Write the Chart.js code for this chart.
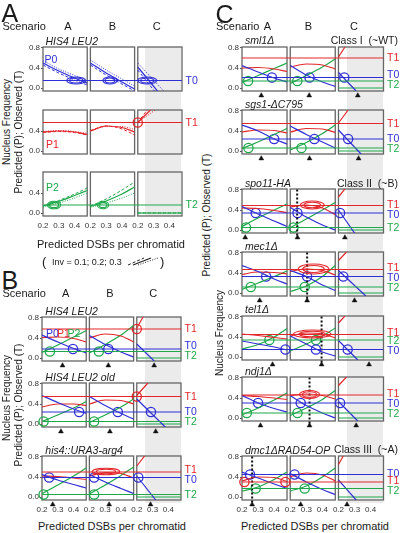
<!DOCTYPE html>
<html>
<head>
<meta charset="utf-8">
<script src="https://cdn.jsdelivr.net/npm/chart.js"></script>
<style>
  body { margin: 0; background: #fff; }
  #fig {
    position: relative;
    width: 400px;
    height: 533px;
    overflow: hidden;
    font-family: "Liberation Sans", Arial, sans-serif;
    color: #1a1a1a;
  }
  #fig canvas { position: absolute; z-index: 1; }
  .t { position: absolute; white-space: nowrap; line-height: 1; z-index: 2; }
  .shade { position: absolute; background: #ebebeb; z-index: 0; }
</style>
</head>
<body>
<div id="fig"></div>

<script>
// ---------- data ----------
const scenarios = ['A', 'B', 'C'];
const xTickLabels = [0.2, 0.3, 0.4];
const yTickLabels = [0.0, 0.4, 0.8];
const shadeFrom = 0.25;               // scenario C: region excluded (grey)

const rowTitles = ['HIS4 LEU2', '', '', 'HIS4 LEU2', 'HIS4 LEU2 old', 'his4::URA3-arg4',
  'sml1\u0394', 'sgs1-\u0394C795', 'spo11-HA', 'mec1\u0394', 'tel1\u0394', 'ndj1\u0394', 'dmc1\u0394RAD54-OP'];

// observed nucleus frequencies (T0, T1, T2) per row
const obsT0 = [0.15, null, null, 0.18, 0.24, 0.39, 0.21, 0.24, 0.34, 0.33, 0.15, 0.30, 0.45];
const obsT1 = [null, 0.57, null, 0.58, 0.55, 0.50, 0.60, 0.55, 0.49, 0.47, 0.45, 0.46, 0.30];
const obsT2 = [null, null, 0.16, 0.13, 0.05, 0.05, 0.14, 0.06, 0.05, 0.12, 0.34, 0.10, 0.17];

// panel A: predictions for Inv = 0.1 / 0.2 / 0.3, per scenario [A, B, C], points [DSBs, freq]
const aP0Inv1 = [[[0.2, 0.46], [0.3, 0.30], [0.4, 0.16], [0.48, 0.06]], [[0.2, 0.46], [0.3, 0.26], [0.4, 0.08], [0.48, -0.06]], [[0.2, 0.36], [0.31, -0.08]]];
const aP0Inv2 = [[[0.2, 0.50], [0.3, 0.34], [0.4, 0.20], [0.48, 0.10]], [[0.2, 0.50], [0.3, 0.30], [0.4, 0.12], [0.48, -0.02]], [[0.2, 0.42], [0.33, -0.08]]];
const aP0Inv3 = [[[0.2, 0.55], [0.3, 0.38], [0.4, 0.25], [0.48, 0.14]], [[0.2, 0.56], [0.3, 0.36], [0.4, 0.18], [0.48, 0.04]], [[0.2, 0.50], [0.37, -0.08]]];
const aP1Inv1 = [[[0.2, 0.37], [0.3, 0.39], [0.4, 0.37], [0.48, 0.32]], [[0.2, 0.41], [0.3, 0.50], [0.4, 0.44], [0.48, 0.32]], [[0.2, 0.57], [0.26, 0.82]]];
const aP1Inv2 = [[[0.2, 0.38], [0.3, 0.40], [0.4, 0.38], [0.48, 0.33]], [[0.2, 0.40], [0.3, 0.50], [0.4, 0.47], [0.48, 0.38]], [[0.2, 0.57], [0.28, 0.82]]];
const aP1Inv3 = [[[0.2, 0.39], [0.3, 0.41], [0.4, 0.39], [0.48, 0.35]], [[0.2, 0.40], [0.3, 0.49], [0.4, 0.49], [0.48, 0.43]], [[0.2, 0.57], [0.31, 0.82]]];
const aP2Inv1 = [[[0.2, 0.14], [0.3, 0.25], [0.4, 0.38], [0.48, 0.50]], [[0.2, 0.14], [0.3, 0.28], [0.4, 0.46], [0.48, 0.62]], [[0.2, 0], [0.48, 0]]];
const aP2Inv2 = [[[0.2, 0.14], [0.3, 0.23], [0.4, 0.35], [0.48, 0.45]], [[0.2, 0.13], [0.3, 0.24], [0.4, 0.38], [0.48, 0.52]], [[0.2, 0], [0.48, 0]]];
const aP2Inv3 = [[[0.2, 0.12], [0.3, 0.20], [0.4, 0.30], [0.48, 0.40]], [[0.2, 0.11], [0.3, 0.20], [0.4, 0.30], [0.48, 0.40]], [[0.2, 0], [0.48, 0]]];

// panels B and C (rows 3..12): P0, P1, P2 per scenario [A, B, C]
const predP0 = [
  [[[0.2, 0.46], [0.3, 0.32], [0.4, 0.19], [0.48, 0.10]], [[0.2, 0.45], [0.3, 0.27], [0.4, 0.12], [0.48, 0.02]], [[0.2, 0.28], [0.31, -0.06]]],
  [[[0.2, 0.57], [0.3, 0.43], [0.4, 0.30], [0.48, 0.21]], [[0.2, 0.55], [0.3, 0.37], [0.4, 0.21], [0.48, 0.10]], [[0.2, 0.50], [0.38, -0.06]]],
  [[[0.2, 0.45], [0.3, 0.34], [0.4, 0.25], [0.48, 0.18]], [[0.2, 0.45], [0.3, 0.30], [0.4, 0.17], [0.48, 0.07]], [[0.2, 0.42], [0.32, -0.06]]],
  [[[0.2, 0.45], [0.3, 0.32], [0.4, 0.20], [0.48, 0.12]], [[0.2, 0.45], [0.3, 0.26], [0.4, 0.12], [0.48, 0.03]], [[0.2, 0.31], [0.31, -0.06]]],
  [[[0.2, 0.52], [0.3, 0.40], [0.4, 0.24], [0.48, 0.14]], [[0.2, 0.50], [0.3, 0.33], [0.4, 0.18], [0.48, 0.06]], [[0.2, 0.42], [0.34, -0.06]]],
  [[[0.2, 0.47], [0.3, 0.32], [0.4, 0.18], [0.48, 0.07]], [[0.2, 0.45], [0.3, 0.26], [0.4, 0.10], [0.48, 0.00]], [[0.2, 0.40], [0.30, -0.06]]],
  [[[0.2, 0.55], [0.3, 0.43], [0.4, 0.28], [0.48, 0.18]], [[0.2, 0.45], [0.3, 0.33], [0.4, 0.16], [0.48, 0.05]], [[0.2, 0.45], [0.37, -0.06]]],
  [[[0.2, 0.32], [0.3, 0.26], [0.4, 0.20], [0.48, 0.14]], [[0.2, 0.42], [0.3, 0.26], [0.4, 0.10], [0.48, 0.02]], [[0.2, 0.33], [0.32, -0.06]]],
  [[[0.2, 0.45], [0.3, 0.30], [0.4, 0.19], [0.48, 0.12]], [[0.2, 0.45], [0.3, 0.25], [0.4, 0.10], [0.48, 0.00]], [[0.2, 0.33], [0.32, -0.06]]],
  [[[0.2, 0.50], [0.3, 0.38], [0.4, 0.26], [0.48, 0.17]], [[0.2, 0.47], [0.3, 0.30], [0.4, 0.15], [0.48, 0.05]], [[0.2, 0.34], [0.31, -0.06]]]
];
const predP1 = [
  [[[0.2, 0.41], [0.3, 0.42], [0.4, 0.39], [0.48, 0.32]], [[0.2, 0.40], [0.3, 0.48], [0.4, 0.44], [0.48, 0.32]], [[0.2, 0.60], [0.24, 0.82]]],
  [[[0.2, 0.34], [0.3, 0.40], [0.4, 0.40], [0.48, 0.37]], [[0.2, 0.40], [0.3, 0.48], [0.4, 0.47], [0.48, 0.40]], [[0.2, 0.57], [0.27, 0.82]]],
  [[[0.2, 0.42], [0.3, 0.41], [0.4, 0.38], [0.48, 0.35]], [[0.2, 0.42], [0.3, 0.49], [0.4, 0.47], [0.48, 0.38]], [[0.2, 0.62], [0.25, 0.82]]],
  [[[0.2, 0.40], [0.3, 0.41], [0.4, 0.38], [0.48, 0.33]], [[0.2, 0.42], [0.3, 0.48], [0.4, 0.46], [0.48, 0.38]], [[0.2, 0.62], [0.24, 0.82]]],
  [[[0.2, 0.38], [0.3, 0.42], [0.4, 0.41], [0.48, 0.36]], [[0.2, 0.38], [0.3, 0.45], [0.4, 0.44], [0.48, 0.37]], [[0.2, 0.56], [0.26, 0.82]]],
  [[[0.2, 0.44], [0.3, 0.43], [0.4, 0.39], [0.48, 0.35]], [[0.2, 0.46], [0.3, 0.50], [0.4, 0.44], [0.48, 0.31]], [[0.2, 0.66], [0.24, 0.82]]],
  [[[0.2, 0.37], [0.3, 0.42], [0.4, 0.41], [0.48, 0.38]], [[0.2, 0.43], [0.3, 0.48], [0.4, 0.45], [0.48, 0.36]], [[0.2, 0.65], [0.25, 0.82]]],
  [[[0.2, 0.46], [0.3, 0.43], [0.4, 0.39], [0.48, 0.36]], [[0.2, 0.42], [0.3, 0.48], [0.4, 0.46], [0.48, 0.38]], [[0.2, 0.68], [0.24, 0.82]]],
  [[[0.2, 0.45], [0.3, 0.43], [0.4, 0.40], [0.48, 0.37]], [[0.2, 0.45], [0.3, 0.48], [0.4, 0.45], [0.48, 0.38]], [[0.2, 0.65], [0.25, 0.82]]],
  [[[0.2, 0.32], [0.3, 0.40], [0.4, 0.39], [0.48, 0.31]], [[0.2, 0.41], [0.3, 0.48], [0.4, 0.44], [0.48, 0.32]], [[0.2, 0.65], [0.23, 0.82]]]
];
const predP2 = [
  [[[0.2, 0.11], [0.3, 0.26], [0.4, 0.42], [0.48, 0.55]], [[0.2, 0.10], [0.3, 0.27], [0.4, 0.46], [0.48, 0.65]], [[0.2, 0], [0.48, 0]]],
  [[[0.2, 0.05], [0.3, 0.18], [0.4, 0.32], [0.48, 0.45]], [[0.2, 0.03], [0.3, 0.18], [0.4, 0.34], [0.48, 0.50]], [[0.2, 0], [0.48, 0]]],
  [[[0.2, 0.07], [0.3, 0.24], [0.4, 0.42], [0.48, 0.58]], [[0.2, 0.06], [0.3, 0.24], [0.4, 0.43], [0.48, 0.60]], [[0.2, 0], [0.48, 0]]],
  [[[0.2, 0.11], [0.3, 0.25], [0.4, 0.39], [0.48, 0.50]], [[0.2, 0.09], [0.3, 0.25], [0.4, 0.42], [0.48, 0.58]], [[0.2, 0], [0.48, 0]]],
  [[[0.2, 0.05], [0.3, 0.18], [0.4, 0.33], [0.48, 0.45]], [[0.2, 0.02], [0.3, 0.17], [0.4, 0.35], [0.48, 0.52]], [[0.2, 0], [0.48, 0]]],
  [[[0.2, 0.07], [0.3, 0.24], [0.4, 0.40], [0.48, 0.52]], [[0.2, 0.05], [0.3, 0.22], [0.4, 0.40], [0.48, 0.55]], [[0.2, 0], [0.48, 0]]],
  [[[0.2, 0.07], [0.3, 0.20], [0.4, 0.33], [0.48, 0.44]], [[0.2, 0.03], [0.3, 0.14], [0.4, 0.33], [0.48, 0.55]], [[0.2, 0], [0.48, 0]]],
  [[[0.2, 0.16], [0.3, 0.25], [0.4, 0.40], [0.48, 0.57]], [[0.2, 0.12], [0.3, 0.26], [0.4, 0.42], [0.48, 0.58]], [[0.2, 0], [0.48, 0]]],
  [[[0.2, 0.06], [0.3, 0.20], [0.4, 0.36], [0.48, 0.50]], [[0.2, 0.05], [0.3, 0.20], [0.4, 0.37], [0.48, 0.55]], [[0.2, 0], [0.48, 0]]],
  [[[0.2, 0.12], [0.3, 0.20], [0.4, 0.35], [0.48, 0.50]], [[0.2, 0.12], [0.3, 0.22], [0.4, 0.40], [0.48, 0.58]], [[0.2, 0], [0.48, 0]]]
];

// open circles where a prediction meets its observation: [row, scenario, DSBs]
const hitsT0 = [[3, 0, 0.396], [3, 1, 0.32], [4, 0, 0.435], [4, 1, 0.38], [4, 2, 0.29], [5, 0, 0.245], [5, 1, 0.23], [5, 2, 0.21],
  [6, 0, 0.386], [6, 1, 0.32], [6, 2, 0.236], [7, 0, 0.40], [7, 1, 0.35], [7, 2, 0.26], [8, 0, 0.285], [8, 1, 0.245], [8, 2, 0.21],
  [9, 0, 0.35], [9, 1, 0.305], [9, 2, 0.23], [10, 0, 0.47], [10, 1, 0.36], [10, 2, 0.257], [11, 0, 0.30], [11, 1, 0.265], [11, 2, 0.21],
  [12, 0, 0.25], [12, 1, 0.227]];
const hitsT1 = [[1, 2, 0.2], [3, 2, 0.2], [4, 2, 0.2], [12, 0, 0.215], [12, 0, 0.47]];
const hitsT2 = [[3, 0, 0.25], [3, 1, 0.26], [4, 0, 0.21], [4, 1, 0.23], [5, 0, 0.21], [5, 1, 0.23], [6, 0, 0.238], [6, 1, 0.244],
  [7, 0, 0.24], [7, 1, 0.27], [8, 0, 0.225], [8, 1, 0.22], [9, 0, 0.255], [9, 1, 0.29], [10, 0, 0.37], [10, 1, 0.36],
  [11, 0, 0.23], [11, 1, 0.245], [12, 0, 0.285], [12, 1, 0.29]];

// confidence ellipses: [row, scenario, cx, cy, rx, ry]
const ovalsT0 = [[0, 0, 0.41, 0.15, 0.06, 0.07], [0, 1, 0.324, 0.15, 0.045, 0.07], [0, 2, 0.26, 0.15, 0.06, 0.07]];
const ovalsT1 = [[5, 1, 0.305, 0.51, 0.087, 0.065], [8, 1, 0.337, 0.50, 0.074, 0.08], [9, 1, 0.345, 0.48, 0.095, 0.1],
  [10, 1, 0.337, 0.46, 0.116, 0.08], [11, 1, 0.32, 0.47, 0.063, 0.08]];
const ovalsT2 = [[2, 0, 0.27, 0.16, 0.042, 0.075], [2, 1, 0.28, 0.16, 0.036, 0.075]];

// best-fit DSB level (triangles) per scenario, and the dotted marker [scenario, DSBs]
const dsbMarks = [null, null, null, [0.33, 0.32, 0.31], [0.32, 0.33, 0.32], [0.268, 0.325, 0.287], [0.32, 0.318, 0.32],
  [0.32, 0.32, 0.325], [0.22, 0.245, 0.24], [0.31, 0.305, 0.30], [0.39, 0.395, 0.39], [0.315, 0.32, 0.31], [0.263, 0.265, 0.253]];
const dottedAt = [null, null, null, null, null, null, null, null, [1, 0.243], [1, 0.305], [1, 0.395], [1, 0.32], [0, 0.263]];

// ---------- layout ----------
const COLORS = ['#2f2fd6', '#e3262b', '#1fa84a'];
const TNAMES = ['T0', 'T1', 'T2'];
const FONT = '"Liberation Sans", Arial, sans-serif';
const X_MIN = 0.2, X_SPAN = 0.28, X_STEP = 0.3, X_MAX = X_MIN + 2 * X_STEP + X_SPAN;
const Y_MIN = -0.06, Y_MAX = 0.82, ROW_H = 44;
const EXT = 3;                                   // extra px under each box for the triangles
const Y_AXIS_MIN = Y_MIN - EXT * (Y_MAX - Y_MIN) / ROW_H;
const MARK_Y = Y_MIN - 0.09;
const BOX_CLIP = { left: 0, top: 0, right: 0, bottom: -EXT };

const panels = {
  A: { left: 42.5, w: 139, tops: [47.3, 110, 171.7], rows: [0, 1, 2] },
  B: { left: 42.3, w: 139, tops: [317, 383, 456], rows: [3, 4, 5] },
  C: { left: 242, w: 141.5, tops: [46.8, 110, 189.3, 252, 315.5, 377, 456], rows: [6, 7, 8, 9, 10, 11, 12] }
};

const fig = document.getElementById('fig');

function txt(s, x, y, o = {}) {
  const d = document.createElement('div');
  d.className = 't';
  d.textContent = s;
  d.style.left = x + 'px';
  d.style.top = y + 'px';
  d.style.fontSize = (o.size || 10.5) + 'px';
  if (o.color) d.style.color = o.color;
  if (o.italic) d.style.fontStyle = 'italic';
  const tx = o.align === 'center' ? '-50%' : o.align === 'right' ? '-100%' : '0';
  d.style.transform = `translate(${tx},-50%)` + (o.rot ? ' rotate(-90deg)' : '');
  fig.appendChild(d);
  return d;
}

const pts = (list, c) => list.map(p => ({ x: p[0] + c * X_STEP, y: p[1] }));

function hline(v, color) {
  return { data: [{ x: X_MIN, y: v }, { x: X_MAX, y: v }], showLine: true, borderColor: color,
    borderWidth: 1.2, pointRadius: 0, clip: BOX_CLIP };
}
function curve(list, c, color, dash, width) {
  return { data: pts(list, c), showLine: true, borderColor: color, borderWidth: width, borderDash: dash,
    pointRadius: 0, cubicInterpolationMode: 'monotone', clip: BOX_CLIP };
}
function rings(data, color) {
  return { data, showLine: false, pointStyle: 'circle', pointRadius: 4.6, pointBorderWidth: 1.3,
    pointBorderColor: color, pointBackgroundColor: 'rgba(0,0,0,0)', clip: false };
}

const INV_DASH = [[3, 2], [], [1, 1.5]];
const INV_W = [1, 1.2, 1];

function datasetsFor(r) {
  const ds = [];
  const tv = [obsT0[r], obsT1[r], obsT2[r]];
  tv.forEach((v, i) => { if (v != null) ds.push(hline(v, COLORS[i])); });
  if (r < 3) {
    const sets = [[aP0Inv1, aP0Inv2, aP0Inv3], [aP1Inv1, aP1Inv2, aP1Inv3], [aP2Inv1, aP2Inv2, aP2Inv3]][r];
    sets.forEach((set, k) => set.forEach((list, c) => ds.push(curve(list, c, COLORS[r], INV_DASH[k], INV_W[k]))));
  } else {
    [predP0, predP1, predP2].forEach((pr, i) =>
      pr[r - 3].forEach((list, c) => ds.push(curve(list, c, COLORS[i], [], 1.2))));
  }
  if (dottedAt[r]) {
    const [c, x] = dottedAt[r];
    ds.push({ data: [{ x: x + c * X_STEP, y: Y_MIN - 0.05 }, { x: x + c * X_STEP, y: Y_MAX }], showLine: true,
      borderColor: '#111', borderWidth: 2, borderDash: [2, 2], pointRadius: 0, clip: false });
  }
  [hitsT0, hitsT1, hitsT2].forEach((list, i) => {
    const d = list.filter(h => h[0] === r).map(h => ({ x: h[2] + h[1] * X_STEP, y: tv[i] }));
    if (d.length) ds.push(rings(d, COLORS[i]));
  });
  if (dsbMarks[r]) {
    ds.push({ data: dsbMarks[r].map((x, c) => ({ x: x + c * X_STEP, y: MARK_Y })), showLine: false,
      pointStyle: 'triangle', pointRadius: 2.8, pointBackgroundColor: '#111', pointBorderColor: '#111',
      pointBorderWidth: 0.5, clip: false });
  }
  return ds;
}

const decoPlugin = {
  id: 'deco',
  beforeDatasetsDraw(chart) {
    const { ctx, scales: { x, y } } = chart;
    const t = y.getPixelForValue(Y_MAX), b = y.getPixelForValue(Y_MIN);
    ctx.save();
    ctx.strokeStyle = '#666';
    ctx.lineWidth = 1.3;
    for (let c = 0; c < 3; c++) {
      const l = x.getPixelForValue(X_MIN + c * X_STEP), rr = x.getPixelForValue(X_MIN + c * X_STEP + X_SPAN);
      ctx.strokeRect(l, t, rr - l, b - t);
    }
    ctx.restore();
  },
  afterDatasetsDraw(chart, args, o) {
    const { ctx, chartArea: a, scales: { x, y } } = chart;
    ctx.save();
    (o.ovals || []).forEach(ov => {
      const cx = x.getPixelForValue(ov.cx), cy = y.getPixelForValue(ov.cy);
      const rx = Math.abs(x.getPixelForValue(ov.cx + ov.rx) - cx);
      const ry = Math.abs(y.getPixelForValue(ov.cy + ov.ry) - cy);
      ctx.strokeStyle = ov.color;
      ctx.lineWidth = 1.1;
      [1, 0.7].forEach(f => {
        ctx.beginPath();
        ctx.ellipse(cx, cy, rx * f, ry * f, 0, 0, Math.PI * 2);
        ctx.stroke();
      });
    });
    // T labels on the right
    const items = (o.tl || []).map(t => ({ ...t, py: y.getPixelForValue(t.v) })).sort((p, q) => p.py - q.py);
    for (let i = 1; i < items.length; i++) {
      const gap = items[i].py - items[i - 1].py;
      if (gap < 10) { items[i - 1].py -= (10 - gap) / 2; items[i].py += (10 - gap) / 2; }
    }
    ctx.font = '10.5px ' + FONT;
    ctx.textBaseline = 'middle';
    ctx.textAlign = 'left';
    items.forEach(t => { ctx.fillStyle = t.color; ctx.fillText(t.text, a.right + 3.5, t.py + 0.5); });
    ctx.restore();
  }
};

const charts = {};

function makeRow(r, p, top, isBottom) {
  const g = panels[p];
  const padL = 24, padR = 18, padT = 8, padB = isBottom ? 14 : 6;
  const w = Math.round(padL + g.w + padR), h = padT + ROW_H + EXT + padB;
  const cv = document.createElement('canvas');
  cv.width = w; cv.height = h;
  cv.style.width = w + 'px'; cv.style.height = h + 'px';
  cv.style.left = (g.left - padL) + 'px';
  cv.style.top = (top - padT) + 'px';
  fig.appendChild(cv);

  const tv = [obsT0[r], obsT1[r], obsT2[r]];
  const tl = tv.map((v, i) => ({ v, text: TNAMES[i], color: COLORS[i] })).filter(t => t.v != null);
  const ovals = [];
  [ovalsT0, ovalsT1, ovalsT2].forEach((list, i) => list.filter(e => e[0] === r).forEach(e =>
    ovals.push({ cx: e[2] + e[1] * X_STEP, cy: e[3], rx: e[4], ry: e[5], color: COLORS[i] })));
  const yTicks = (r === 1 || r === 2) ? yTickLabels.slice(0, 2) : yTickLabels;

  const chart = new Chart(cv, {
    type: 'scatter',
    data: { datasets: datasetsFor(r) },
    plugins: [decoPlugin],
    options: {
      responsive: false,
      animation: false,
      events: [],
      layout: { padding: { top: padT, right: w - padL - g.w, left: 0, bottom: 0 } },
      plugins: { legend: { display: false }, tooltip: { enabled: false }, deco: { tl, ovals } },
      scales: {
        x: {
          type: 'linear', min: X_MIN, max: X_MAX,
          afterFit: s => { s.height = padB; },
          afterBuildTicks: s => {
            s.ticks = isBottom ? [0, 1, 2].flatMap(c => xTickLabels.map(v => ({ value: v + c * X_STEP }))) : [];
          },
          ticks: {
            display: isBottom, autoSkip: false, maxRotation: 0, padding: 1.5, color: '#333',
            font: { size: 8, family: FONT },
            callback: v => {
              const c = Math.floor((v - X_MIN + 1e-6) / X_STEP);
              return (v - c * X_STEP).toFixed(1);
            }
          },
          grid: { display: false, drawTicks: false, tickLength: 0 },
          border: { display: false }
        },
        y: {
          type: 'linear', min: Y_AXIS_MIN, max: Y_MAX,
          afterFit: s => { s.width = padL; },
          afterBuildTicks: s => { s.ticks = yTicks.map(v => ({ value: v })); },
          ticks: { padding: 1, color: '#333', font: { size: 8, family: FONT }, callback: v => v.toFixed(1) },
          grid: { drawOnChartArea: false, tickLength: 2, color: '#555' },
          border: { display: false }
        }
      }
    }
  });
  charts[r] = { chart, left: g.left - padL, top: top - padT };
}

Object.entries(panels).forEach(([p, g]) => {
  g.rows.forEach((r, i) => makeRow(r, p, g.tops[i], i === g.rows.length - 1));
  // grey band for scenario C (DSBs above shadeFrom)
  const first = charts[g.rows[0]], last = charts[g.rows[g.rows.length - 1]];
  const sx = first.chart.scales.x;
  const x0 = first.left + sx.getPixelForValue(shadeFrom + 2 * X_STEP);
  const x1 = first.left + first.chart.chartArea.right;
  const y0 = first.top + first.chart.scales.y.getPixelForValue(Y_MAX);
  const y1 = last.top + last.chart.scales.y.getPixelForValue(Y_MIN) + (p === 'A' ? 0 : 3);
  const sh = document.createElement('div');
  sh.className = 'shade';
  Object.assign(sh.style, { left: x0 + 'px', top: y0 + 'px', width: (x1 - x0) + 'px', height: (y1 - y0) + 'px' });
  fig.appendChild(sh);
  // row titles
  g.rows.forEach((r, i) => { if (rowTitles[r]) txt(rowTitles[r], g.left + 3, g.tops[i] - 6.5, { italic: true, size: 10.5 }); });
});

// ---------- texts ----------
txt('A', 1.5, 13, { size: 25 });
txt('B', 1.5, 280, { size: 25 });
txt('C', 215.5, 14, { size: 25 });

const scenarioRows = [[2.5, 25.7, [67.8, 112.3, 156.7]], [2.5, 293.3, [65.7, 110, 153.3]], [216, 25.7, [267.5, 308.3, 354]]];
scenarioRows.forEach(([x, y, cols]) => {
  txt('Scenario', x, y, { size: 11 });
  cols.forEach((cx, i) => txt(scenarios[i], cx, y, { size: 11, align: 'center' }));
});

txt('Class I\u00a0 (~WT)', 398, 40, { size: 10.5, align: 'right' });
txt('Class II\u00a0 (~B)', 398, 183.3, { size: 10.5, align: 'right' });
txt('Class III\u00a0 (~A)', 398, 448.5, { size: 10.5, align: 'right' });

txt('P0', 44.5, 59, { color: COLORS[0], size: 10.5 });
txt('P1', 46, 144, { color: COLORS[1], size: 10.5 });
txt('P2', 46, 186.5, { color: COLORS[2], size: 10.5 });
txt('P0', 46, 333, { color: COLORS[0], size: 10.5 });
txt('P1', 57, 333, { color: COLORS[1], size: 10.5 });
txt('P2', 67.5, 333, { color: COLORS[2], size: 10.5 });

txt('Predicted DSBs per chromatid', 111, 244, { size: 11, align: 'center' });
txt('Predicted DSBs per chromatid', 112, 526, { size: 11, align: 'center' });
txt('Predicted DSBs per chromatid', 315, 525.5, { size: 11, align: 'center' });

txt('Nucleus Frequency', 6.5, 122, { size: 10, align: 'center', rot: true });
txt('Predicted (P); Observed (T)', 18.5, 132, { size: 10, align: 'center', rot: true });
txt('Nucleus Frequency', 6.5, 398, { size: 10, align: 'center', rot: true });
txt('Predicted (P); Observed (T)', 18.5, 405, { size: 10, align: 'center', rot: true });
txt('Predicted (P); Observed (T)', 207, 215, { size: 10, align: 'center', rot: true });
txt('Nucleus Frequency', 220, 333, { size: 10, align: 'center', rot: true });

// inversion legend
txt('(', 42, 261, { size: 13 });
txt('Inv = 0.1; 0.2; 0.3', 52, 261.5, { size: 9 });
txt(')', 160, 261, { size: 13 });
const leg = document.createElementNS('http://www.w3.org/2000/svg', 'svg');
leg.setAttribute('width', '32'); leg.setAttribute('height', '12');
Object.assign(leg.style, { position: 'absolute', left: '126px', top: '255px', zIndex: 2 });
INV_DASH.forEach((d, k) => {
  const ln = document.createElementNS('http://www.w3.org/2000/svg', 'line');
  ln.setAttribute('x1', 2 + k * 5); ln.setAttribute('y1', 10);
  ln.setAttribute('x2', 18 + k * 7); ln.setAttribute('y2', 3);
  ln.setAttribute('stroke', '#222'); ln.setAttribute('stroke-width', INV_W[k]);
  if (d.length) ln.setAttribute('stroke-dasharray', d.join(' '));
  leg.appendChild(ln);
});
fig.appendChild(leg);
</script>
</body>
</html>
